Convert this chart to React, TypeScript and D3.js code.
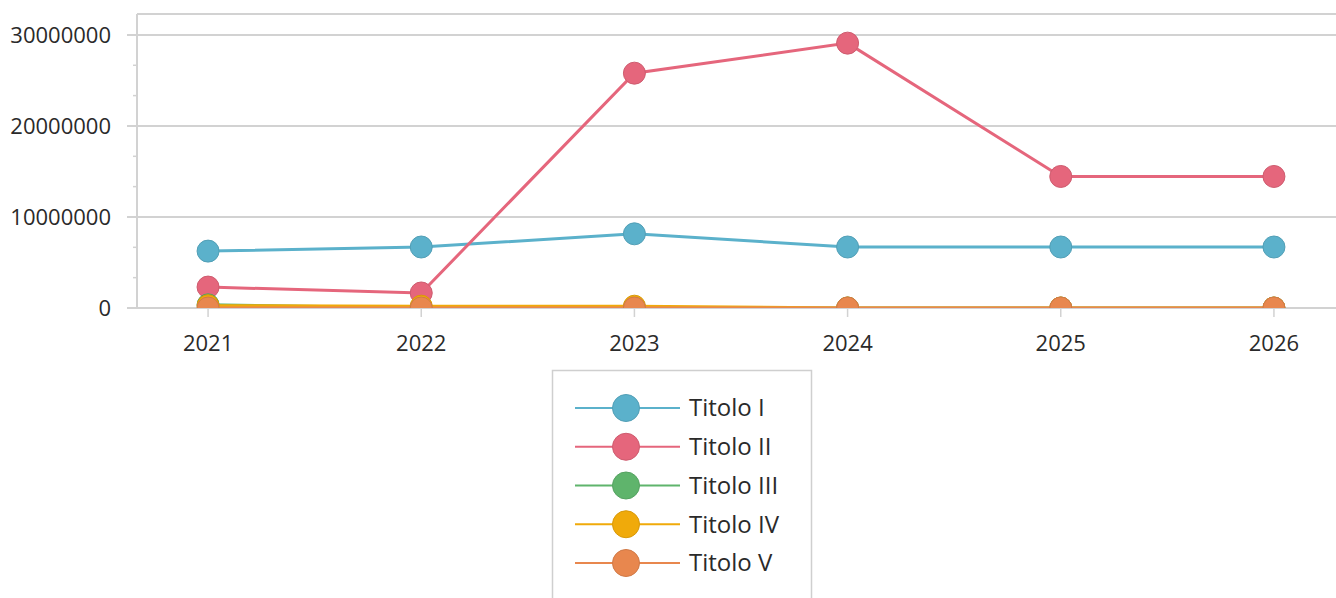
import { useEffect, useRef } from 'react';
import * as d3 from 'd3';

const years = ['2021', '2022', '2023', '2024', '2025', '2026'];
const seriesNames = ['Titolo I', 'Titolo II', 'Titolo III', 'Titolo IV', 'Titolo V'];
const seriesColors = ['#5bb1cb', '#e5667c', '#5fb46c', '#f0aa0a', '#e8874e'];

const titoloI = [6250000, 6700000, 8150000, 6700000, 6700000, 6700000];
const titoloII = [2300000, 1650000, 25800000, 29100000, 14450000, 14450000];
const titoloIII = [350000, 0, 0, 0, 0, 0];
const titoloIV = [250000, 200000, 200000, 0, 0, 0];
const titoloV = [0, 0, 0, 0, 0, 0];

const majorTicks = [0, 10000000, 20000000, 30000000];

export default function App() {
  const ref = useRef<HTMLDivElement>(null);

  useEffect(() => {
    const container = ref.current;
    if (!container) return;
    d3.select(container).select('svg').remove();

    const width = 1336;
    const height = 598;
    const plot = { left: 137, top: 14, right: 1345, bottom: 308 };
    const font = '"Open Sans", "Noto Sans", sans-serif';
    const textColor = '#2a2a2a';

    const allSeries = [titoloI, titoloII, titoloIII, titoloIV, titoloV];

    const svg = d3.select(container)
      .append('svg')
      .attr('width', width)
      .attr('height', height)
      .style('position', 'absolute')
      .style('left', '0px')
      .style('top', '0px')
      .style('background', '#fff');

    const x = d3.scalePoint<string>().domain(years).range([plot.left, plot.right]).padding(1 / 3);
    const y = d3.scaleLinear().domain([0, 32300000]).range([plot.bottom, plot.top]);

    // gridlines + border
    svg.append('line')
      .attr('x1', plot.left).attr('x2', width)
      .attr('y1', plot.top).attr('y2', plot.top)
      .attr('stroke', '#d2d2d2').attr('stroke-width', 2);

    svg.selectAll('line.grid')
      .data(majorTicks)
      .join('line')
      .attr('class', 'grid')
      .attr('x1', plot.left - 10).attr('x2', width)
      .attr('y1', d => y(d)).attr('y2', d => y(d))
      .attr('stroke', '#d2d2d2').attr('stroke-width', 2);

    // minor ticks on y axis
    const minor = d3.range(0, 31000000, 10000000 / 3).filter(v => Math.round(v) % 10000000 !== 0);
    svg.selectAll('line.minor')
      .data(minor)
      .join('line')
      .attr('class', 'minor')
      .attr('x1', plot.left - 4).attr('x2', plot.left)
      .attr('y1', d => y(d)).attr('y2', d => y(d))
      .attr('stroke', '#d2d2d2').attr('stroke-width', 1.5);

    svg.append('line')
      .attr('x1', plot.left).attr('x2', plot.left)
      .attr('y1', plot.top).attr('y2', plot.bottom)
      .attr('stroke', '#d2d2d2').attr('stroke-width', 2);

    svg.selectAll('text.ylab')
      .data(majorTicks)
      .join('text')
      .attr('class', 'ylab')
      .attr('x', 111)
      .attr('y', d => y(d))
      .attr('dy', '0.35em')
      .attr('text-anchor', 'end')
      .attr('font-family', font)
      .attr('font-size', 22)
      .attr('fill', textColor)
      .text(d => String(d));

    // x ticks + labels
    svg.selectAll('line.xtick')
      .data(years)
      .join('line')
      .attr('class', 'xtick')
      .attr('x1', d => x(d)!).attr('x2', d => x(d)!)
      .attr('y1', plot.bottom).attr('y2', plot.bottom + 9)
      .attr('stroke', '#d2d2d2').attr('stroke-width', 1.5);

    svg.selectAll('text.xlab')
      .data(years)
      .join('text')
      .attr('class', 'xlab')
      .attr('x', d => x(d)!)
      .attr('y', 343)
      .attr('dy', '0.35em')
      .attr('text-anchor', 'middle')
      .attr('font-family', font)
      .attr('font-size', 22)
      .attr('fill', textColor)
      .text(d => d);

    // series, clipped to plot area
    const clipId = 'plot-clip';
    svg.append('defs').append('clipPath').attr('id', clipId)
      .append('rect')
      .attr('x', plot.left).attr('y', plot.top - 20)
      .attr('width', width - plot.left).attr('height', plot.bottom - plot.top + 20);

    const g = svg.append('g').attr('clip-path', `url(#${clipId})`);

    const line = d3.line<number>()
      .x((_, i) => x(years[i])!)
      .y(d => y(d));

    allSeries.forEach((vals, si) => {
      const color = seriesColors[si];
      const sg = g.append('g');
      sg.append('path')
        .datum(vals)
        .attr('d', line)
        .attr('fill', 'none')
        .attr('stroke', color)
        .attr('stroke-width', 3);
      sg.selectAll('circle')
        .data(vals)
        .join('circle')
        .attr('cx', (_, i) => x(years[i])!)
        .attr('cy', d => y(d))
        .attr('r', 11)
        .attr('fill', color)
        .attr('stroke', d3.color(color)!.darker(0.3).formatHex())
        .attr('stroke-width', 1);
    });

    // legend
    const legend = svg.append('g');
    legend.append('rect')
      .attr('x', 552.5).attr('y', 370.5)
      .attr('width', 259).attr('height', 260)
      .attr('fill', '#fff')
      .attr('stroke', '#cfcfcf').attr('stroke-width', 1.5);

    const rowY = d3.scaleLinear().domain([0, 4]).range([408, 563]);
    seriesNames.forEach((name, i) => {
      const color = seriesColors[i];
      const ly = rowY(i);
      legend.append('line')
        .attr('x1', 575).attr('x2', 680)
        .attr('y1', ly).attr('y2', ly)
        .attr('stroke', color).attr('stroke-width', 2);
      legend.append('circle')
        .attr('cx', 626).attr('cy', ly).attr('r', 13.5)
        .attr('fill', color)
        .attr('stroke', d3.color(color)!.darker(0.3).formatHex())
        .attr('stroke-width', 1);
      legend.append('text')
        .attr('x', 689).attr('y', ly)
        .attr('dy', '0.35em')
        .attr('font-family', font)
        .attr('font-size', 24)
        .attr('fill', textColor)
        .text(name);
    });

    return () => {
      d3.select(container).select('svg').remove();
    };
  }, []);

  return <div ref={ref} />;
}
